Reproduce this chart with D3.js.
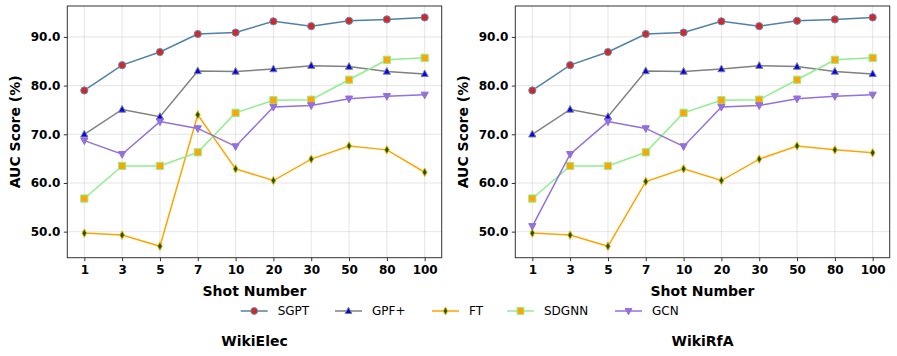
<!DOCTYPE html>
<html><head><meta charset="utf-8">
<script src="https://cdn.jsdelivr.net/npm/d3@7"></script>
<style>body{margin:0;background:#fff}svg{display:block}</style>
</head><body>
<svg id="c" width="897" height="356"></svg>
<script>
const shots = ["1","3","5","7","10","20","30","50","80","100"];
const yTicks = [50, 60, 70, 80, 90];
const seriesNames = ["SGPT","GPF+","FT","SDGNN","GCN"];
const panelTitles = ["WikiElec","WikiRfA"];

const elecSGPT  = [79.0, 84.2, 86.9, 90.6, 90.9, 93.2, 92.2, 93.3, 93.6, 94.0];
const elecGPF   = [70.0, 75.1, 73.6, 83.0, 82.9, 83.4, 84.1, 83.9, 82.9, 82.4];
const elecFT    = [49.7, 49.3, 47.0, 74.0, 62.9, 60.5, 64.9, 67.6, 66.8, 62.2];
const elecSDGNN = [56.8, 63.5, 63.5, 66.3, 74.4, 77.0, 77.1, 81.2, 85.3, 85.7];
const elecGCN   = [68.7, 65.9, 72.6, 71.2, 67.5, 75.6, 75.9, 77.3, 77.8, 78.1];

const rfaSGPT  = [79.0, 84.2, 86.9, 90.6, 90.9, 93.2, 92.2, 93.3, 93.6, 94.0];
const rfaGPF   = [70.0, 75.1, 73.6, 83.0, 82.9, 83.4, 84.1, 83.9, 82.9, 82.4];
const rfaFT    = [49.7, 49.3, 47.0, 60.3, 62.9, 60.5, 64.9, 67.6, 66.8, 66.2];
const rfaSDGNN = [56.8, 63.5, 63.5, 66.3, 74.4, 77.0, 77.1, 81.2, 85.3, 85.7];
const rfaGCN   = [51.1, 65.9, 72.6, 71.2, 67.5, 75.6, 75.9, 77.3, 77.8, 78.1];

const panels = [
  {title: panelTitles[0], data: [elecSGPT, elecGPF, elecFT, elecSDGNN, elecGCN], x0: 67.3, x1: 441.7},
  {title: panelTitles[1], data: [rfaSGPT, rfaGPF, rfaFT, rfaSDGNN, rfaGCN], x0: 515.3, x1: 889.7}
];

const styles = [
  {line:"#4f80a8", face:"#d62728", edge:"#5f8fb5", sym:"circle"},
  {line:"#808080", face:"#0000ff", edge:"#808080", sym:"triUp"},
  {line:"#ffa500", face:"#006400", edge:"#ffa500", sym:"thinDiamond"},
  {line:"#90ee90", face:"#ffa500", edge:"#90ee90", sym:"square"},
  {line:"#9370db", face:"#9370db", edge:"#9370db", sym:"triDown"}
];

function markerPath(sym, s) {
  switch(sym){
    case "circle": return d3.symbol(d3.symbolCircle, Math.PI*s*s)();
    case "square": return `M${-s},${-s}H${s}V${s}H${-s}Z`;
    case "triUp": return `M0,${-s*1.1}L${s},${s*0.75}L${-s},${s*0.75}Z`;
    case "triDown": return `M0,${s*1.1}L${s},${-s*0.75}L${-s},${-s*0.75}Z`;
    case "thinDiamond": return `M0,${-s*1.15}L${s*0.65},0L0,${s*1.15}L${-s*0.65},0Z`;
  }
}

const svg = d3.select("#c");
const yTop = 6, yBot = 257.7;
const allVals = panels.flatMap(p=>p.data.flat());
const mn = d3.min(allVals), mx = d3.max(allVals);
const pad = (mx-mn)*0.05;

panels.forEach(p => {
  const x = d3.scaleLinear().domain([-0.45, shots.length-1+0.45]).range([p.x0, p.x1]);
  const y = d3.scaleLinear().domain([mn-pad, mx+pad]).range([yBot, yTop]);
  const g = svg.append("g");

  g.selectAll(".gx").data(shots).enter().append("line")
    .attr("x1",(d,i)=>x(i)).attr("x2",(d,i)=>x(i)).attr("y1",yTop).attr("y2",yBot)
    .attr("stroke","#b0b0b0").attr("stroke-opacity",0.4).attr("stroke-width",0.8);
  g.selectAll(".gy").data(yTicks).enter().append("line")
    .attr("x1",p.x0).attr("x2",p.x1).attr("y1",d=>y(d)).attr("y2",d=>y(d))
    .attr("stroke","#b0b0b0").attr("stroke-opacity",0.4).attr("stroke-width",0.8);

  const xa = g.append("g").attr("transform",`translate(0,${yBot})`)
    .call(d3.axisBottom(x).tickValues(d3.range(shots.length)).tickFormat(i=>shots[i]).tickSize(3.5).tickPadding(4));
  const ya = g.append("g").attr("transform",`translate(${p.x0},0)`)
    .call(d3.axisLeft(y).tickValues(yTicks).tickFormat(d3.format(".1f")).tickSize(3.5).tickPadding(3.5));
  [xa,ya].forEach(a=>{
    a.select(".domain").remove();
    a.selectAll("line").attr("stroke","#333");
    a.selectAll("text").attr("font-family","DejaVu Sans").attr("font-weight","bold")
      .attr("font-size","12px").attr("fill","#000");
  });

  p.data.forEach((vals, si) => {
    const st = styles[si];
    const line = d3.line().x((d,i)=>x(i)).y(d=>y(d));
    g.append("path").datum(vals).attr("d",line).attr("fill","none")
      .attr("stroke",st.line).attr("stroke-width",1.5);
    g.selectAll(null).data(vals).enter().append("path")
      .attr("d", markerPath(st.sym, 3.6))
      .attr("transform",(d,i)=>`translate(${x(i)},${y(d)})`)
      .attr("fill",st.face).attr("stroke",st.edge).attr("stroke-width",1);
  });

  g.append("rect").attr("x",p.x0).attr("y",yTop).attr("width",p.x1-p.x0).attr("height",yBot-yTop)
    .attr("fill","none").attr("stroke","#333").attr("stroke-width",1);

  const cx = (p.x0+p.x1)/2;
  g.append("text").attr("x",cx).attr("y",296).attr("text-anchor","middle")
    .attr("font-family","DejaVu Sans").attr("font-weight","bold").attr("font-size","14px").text("Shot Number");
  g.append("text").attr("transform",`translate(${p.x0-47},${(yTop+yBot)/2}) rotate(-90)`)
    .attr("text-anchor","middle").attr("font-family","DejaVu Sans").attr("font-weight","bold")
    .attr("font-size","14px").text("AUC Score (%)");
  g.append("text").attr("x",cx).attr("y",346).attr("text-anchor","middle")
    .attr("font-family","DejaVu Sans").attr("font-weight","bold").attr("font-size","14px").text(p.title);
});

const legX = [240.7, 335, 432, 507, 615];
const legY = 311;
seriesNames.forEach((name, si) => {
  const st = styles[si];
  const lg = svg.append("g").attr("transform",`translate(${legX[si]},${legY})`);
  lg.append("line").attr("x1",0).attr("x2",27).attr("y1",0).attr("y2",0)
    .attr("stroke",st.line).attr("stroke-width",1.5);
  lg.append("path").attr("d",markerPath(st.sym,3.4)).attr("transform","translate(13.5,0)")
    .attr("fill",st.face).attr("stroke",st.edge).attr("stroke-width",1);
  lg.append("text").attr("x",37).attr("y",4.3).attr("font-family","DejaVu Sans")
    .attr("font-size","12px").attr("fill","#000").text(name);
});
</script>
</body></html>
